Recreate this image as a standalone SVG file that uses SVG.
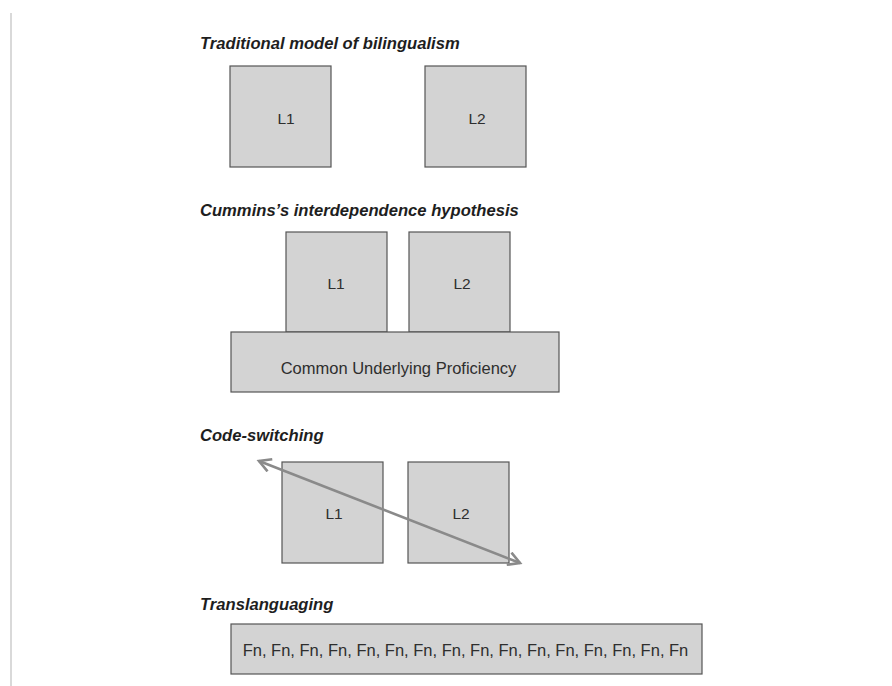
<svg xmlns="http://www.w3.org/2000/svg" width="892" height="686" viewBox="0 0 892 686">
  <style>
    .title { font-family: "Liberation Sans", Arial, sans-serif; font-size: 16.6px; font-weight: bold; font-style: italic; fill: #1e1e1e; }
    .box { fill: #d3d3d3; stroke: #555; stroke-width: 1.2; }
    .lbl { font-family: "Liberation Sans", Arial, sans-serif; font-size: 15.5px; fill: #2e2e2e; text-anchor: middle; dominant-baseline: central; }
    .wide { font-size: 16.5px; }
    .conn { stroke: #8a8a8a; stroke-width: 2.6; fill: none; }
  </style>
  <defs>
    <marker id="chev" viewBox="0 0 12 12" refX="10" refY="6" markerWidth="6" markerHeight="6" orient="auto-start-reverse" markerUnits="strokeWidth">
      <path d="M1,1 L10,6 L1,11" fill="none" stroke="#8a8a8a" stroke-width="2"/>
    </marker>
  </defs>
  <rect width="892" height="686" fill="#fff"/>
  <line x1="11" y1="13" x2="11" y2="686" stroke="#ccc" stroke-width="1.5"/>

  <!-- Traditional model -->
  <text class="title" x="200" y="49">Traditional model of bilingualism</text>
  <g id="trad-l1"><rect class="box" x="230" y="66" width="101" height="101"/><text class="lbl" x="286" y="118">L1</text></g>
  <g id="trad-l2"><rect class="box" x="425" y="66" width="101" height="101"/><text class="lbl" x="477" y="118">L2</text></g>

  <!-- Cummins -->
  <text class="title" x="200" y="216">Cummins’s interdependence hypothesis</text>
  <g id="cum-l1"><rect class="box" x="286" y="232" width="101" height="100"/><text class="lbl" x="336" y="283">L1</text></g>
  <g id="cum-l2"><rect class="box" x="409" y="232" width="101" height="100"/><text class="lbl" x="462" y="283">L2</text></g>
  <g id="cum-cup"><rect class="box" x="231" y="332" width="328" height="60"/><text class="lbl wide" x="398.5" y="368">Common Underlying Proficiency</text></g>

  <!-- Code-switching -->
  <text class="title" x="200" y="441">Code-switching</text>
  <g id="cs-l1"><rect class="box" x="282" y="462" width="101" height="101"/><text class="lbl" x="334" y="513">L1</text></g>
  <g id="cs-l2"><rect class="box" x="408" y="462" width="101" height="101"/><text class="lbl" x="461" y="513">L2</text></g>

  <!-- Translanguaging -->
  <text class="title" x="200" y="610">Translanguaging</text>
  <g id="trans-fn"><rect class="box" x="231" y="624" width="471" height="50"/><text class="lbl wide" x="465.5" y="649.5">Fn, Fn, Fn, Fn, Fn, Fn, Fn, Fn, Fn, Fn, Fn, Fn, Fn, Fn, Fn, Fn</text></g>

  <g id="connectors">
    <line class="conn" x1="259" y1="461" x2="520" y2="563" marker-start="url(#chev)" marker-end="url(#chev)"/>
  </g>
</svg>
